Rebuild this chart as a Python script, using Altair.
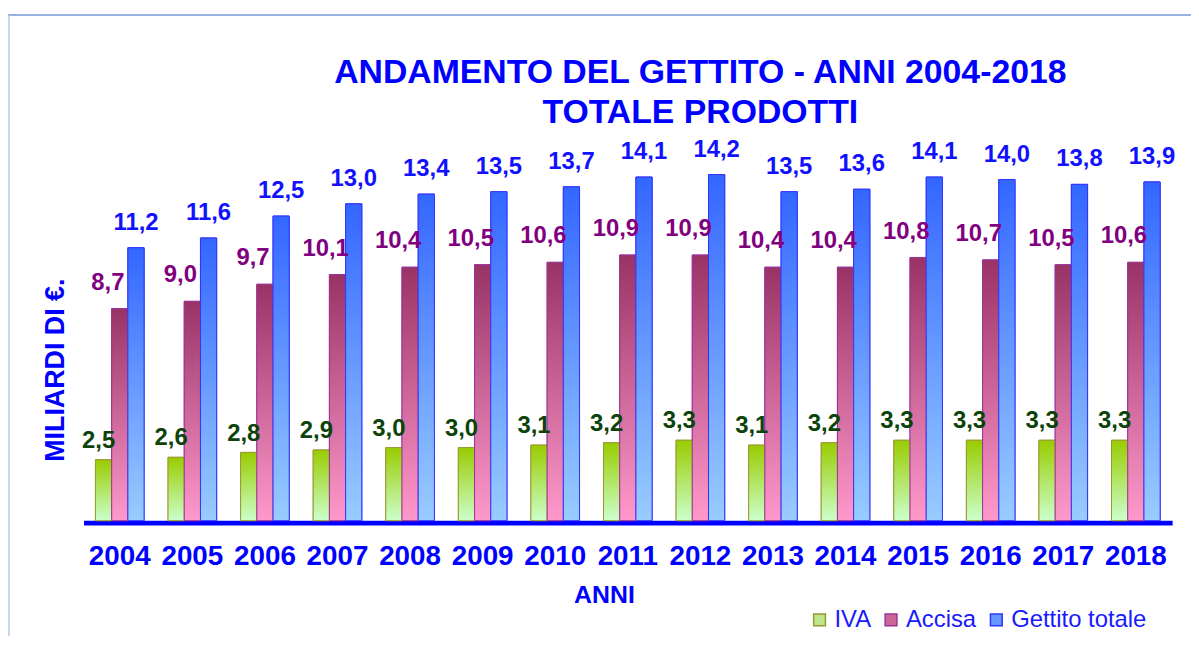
import altair as alt
import pandas as pd

years = ["2004", "2005", "2006", "2007", "2008", "2009", "2010", "2011",
         "2012", "2013", "2014", "2015", "2016", "2017", "2018"]
iva = [2.5, 2.6, 2.8, 2.9, 3.0, 3.0, 3.1, 3.2, 3.3, 3.1, 3.2, 3.3, 3.3, 3.3, 3.3]
accisa = [8.7, 9.0, 9.7, 10.1, 10.4, 10.5, 10.6, 10.9, 10.9, 10.4, 10.4, 10.8, 10.7, 10.5, 10.6]
totale = [11.2, 11.6, 12.5, 13.0, 13.4, 13.5, 13.7, 14.1, 14.2, 13.5, 13.6, 14.1, 14.0, 13.8, 13.9]
series = ["IVA", "Accisa", "Gettito totale"]

rows = []
for name, vals in zip(series, [iva, accisa, totale]):
    for y, v in zip(years, vals):
        rows.append({"anno": y, "serie": name, "valore": v})
df = pd.DataFrame(rows)

FONT = "Liberation Sans"
BLUE = "#0000ff"

styles = {
    "IVA": dict(top="#99cc00", bottom="#ccffcc", stroke="#999933", legend="#bde68a",
                label="#0b430b", dx=-5, dy=-12),
    "Accisa": dict(top="#993366", bottom="#ff99cc", stroke="#993399", legend="#cc6699",
                   label="#800080", dx=-12, dy=-19),
    "Gettito totale": dict(top="#3366ff", bottom="#99ccff", stroke="#3333ff", legend="#6699ff",
                           label="#1111ff", dx=0, dy=-18),
}

x_enc = alt.X("anno:N", sort=years,
              scale=alt.Scale(paddingInner=0.33, paddingOuter=0.165),
              axis=alt.Axis(title="ANNI", labelAngle=0, labelFont=FONT, labelFontSize=28,
                            labelFontWeight="bold", labelColor=BLUE, labelPadding=20,
                            ticks=False, tickSize=0, domainColor=BLUE, domainWidth=5,
                            offset=2, grid=False,
                            titleFont=FONT, titleFontSize=25, titleFontWeight="bold",
                            titleColor=BLUE, titleX=524, titleY=72, titleBaseline="middle",
                            titleAlign="center"))
xo_enc = alt.XOffset("serie:N", sort=series,
                     scale=alt.Scale(domain=series, paddingInner=0, paddingOuter=0))
y_enc = alt.Y("valore:Q", scale=alt.Scale(domain=[0, 15], nice=False),
              axis=alt.Axis(title="MILIARDI DI €.", labels=False, ticks=False, domain=False,
                            grid=False, titleFont=FONT, titleFontSize=27,
                            titleFontWeight="bold", titleColor=BLUE, titleX=-28, titleY=216,
                            titleBaseline="middle", titleAlign="center"))

base = alt.Chart(df)

legend = alt.Legend(title=None, orient="none", legendX=729, legendY=456,
                    direction="horizontal", symbolType="square", symbolSize=140,
                    symbolStrokeWidth=1.5, symbolOpacity=1, labelFont=FONT,
                    labelFontSize=24, labelColor="#1a1aff", labelOffset=3,
                    columnPadding=8)

flat = base.mark_bar().encode(
    x=x_enc, xOffset=xo_enc, y=y_enc,
    fill=alt.Fill("serie:N", sort=series,
                  scale=alt.Scale(domain=series, range=[styles[s]["legend"] for s in series]),
                  legend=legend),
    stroke=alt.Stroke("serie:N", sort=series,
                      scale=alt.Scale(domain=series, range=[styles[s]["stroke"] for s in series]),
                      legend=legend),
)

layers = [flat]
for s in series:
    st = styles[s]
    grad = {"gradient": "linear", "x1": 0, "x2": 0, "y1": 0, "y2": 1,
            "stops": [{"offset": 0, "color": st["top"]}, {"offset": 1, "color": st["bottom"]}]}
    layers.append(
        base.transform_filter(alt.datum.serie == s).mark_bar(
            fill=grad, stroke=st["stroke"], strokeWidth=1
        ).encode(x=x_enc, xOffset=xo_enc, y=y_enc)
    )
for s in series:
    st = styles[s]
    layers.append(
        base.transform_filter(alt.datum.serie == s)
        .transform_calculate(lab="replace(format(datum.valore, '.1f'), '.', ',')")
        .mark_text(font=FONT, fontSize=24, fontWeight="bold", color=st["label"],
                   baseline="alphabetic", align="center", dx=st["dx"], dy=st["dy"])
        .encode(x=x_enc, xOffset=xo_enc, y=y_enc, text="lab:N")
    )

one = alt.Data(values=[{"k": 1}])
frame_top = alt.Chart(one).mark_rule(color="#98b3e0", strokeWidth=2).encode(
    x=alt.value(-80), x2=alt.value(1115), y=alt.value(-141))
frame_left = alt.Chart(one).mark_rule(color="#b8c8e8", strokeWidth=1.5).encode(
    x=alt.value(-75), y=alt.value(-141), y2=alt.value(500))
layers += [frame_top, frame_left]

chart = alt.layer(*layers).properties(
    width=1096, height=368,
    autosize=alt.AutoSizeParams(type="none"),
    padding={"left": 76, "top": 146, "right": 19, "bottom": 114},
    view=alt.ViewBackground(stroke="transparent", strokeWidth=0),
    title=alt.TitleParams(
        text=["ANDAMENTO DEL GETTITO -  ANNI 2004-2018", "TOTALE PRODOTTI"],
        font=FONT, fontSize=34, fontWeight="bold", color=BLUE, anchor="middle",
        frame="group", dx=73, lineHeight=41, offset=-117),
).configure_view(stroke="transparent", strokeWidth=0).configure(background="white")

chart.save("out.html", embed_options={"renderer": "svg", "actions": False})
